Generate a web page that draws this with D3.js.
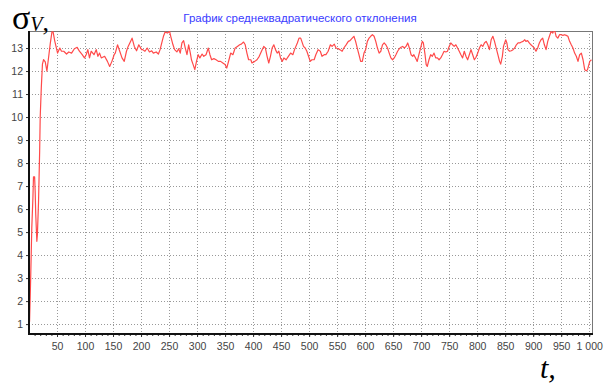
<!DOCTYPE html>
<html>
<head>
<meta charset="utf-8">
<script src="https://cdn.jsdelivr.net/npm/d3@7"></script>
<style>
  body { margin: 0; background: white; }
  #visualisationDiv { width: 614px; height: 387px; }
</style>
</head>
<body>
<div id="visualisationDiv"></div>
<script>
// time steps and sigma values
var tValues = [1, 3, 5, 7, 8, 10, 11, 12, 14, 15, 17, 19, 20, 22, 24, 26, 29, 32, 35, 38, 41, 43, 46,
  51, 55, 58, 62, 67, 71, 76, 81, 86, 90, 95, 99, 102, 105, 108, 111, 116, 120, 123, 126, 129, 135,
  140, 144, 148, 152, 154, 158, 162, 166, 170, 174, 177, 180, 184, 188, 192, 196, 201,
  203, 207, 211, 215, 219, 222, 227, 231, 234, 237, 240, 243, 247, 251, 253, 257, 260, 264, 267,
  270, 273, 276, 279, 282, 285, 288, 290, 293, 296, 299, 302, 305, 309, 312, 316, 320, 323, 326,
  330, 334, 338, 342, 346, 350, 353, 357, 360, 364, 368, 372, 376, 379, 383, 386, 389, 392, 396,
  398, 403, 407, 411, 415, 419, 422, 425, 428, 431, 434, 437, 440, 443, 446, 449, 452, 455, 459,
  463, 467, 471, 474, 479, 482, 485, 487, 490, 493, 496, 499, 502, 505, 509, 512, 516, 520, 523,
  527, 530, 534, 538, 541, 545, 548, 552, 555, 559, 562, 566, 570, 573, 577, 580, 583, 586, 589,
  592, 595, 598, 601, 604, 607, 610, 613, 616, 619, 622, 625, 628, 631, 634, 637, 640, 643, 646,
  649, 652, 655, 658, 661, 664, 667, 670, 673, 676, 679, 682, 685, 687, 690, 693, 696, 699, 702,
  704, 707, 709, 711, 714, 717, 720, 723, 726, 729, 732, 735, 738, 741, 744, 747, 750, 753, 756,
  759, 762, 765, 768, 771, 774, 777, 780, 783, 786, 789, 792, 795, 798, 801, 804, 807, 810, 813,
  816, 819, 822, 825, 828, 831, 834, 837, 840, 842, 845, 847, 851, 853, 855, 858, 861, 864, 867,
  870, 873, 876, 879, 882, 885, 887, 890, 893, 896, 899, 902, 905, 908, 911, 914, 917, 920, 923,
  926, 929, 932, 935, 938, 941, 944, 947, 950, 953, 956, 959, 962, 965, 968, 971, 974, 977, 980,
  983, 986, 989, 992, 995, 997, 1001, 1004];

var sigmaValues = [1.1, 3.0, 5.2, 6.5, 7.4, 7.4, 6.8, 5.8, 4.6, 4.9, 6.3, 8.5, 10.0, 11.3, 12.3, 12.5, 12.4, 12.0, 12.6, 13.2, 13.7, 13.7, 13.3,
  12.78, 13.0, 12.86, 12.86, 12.74, 12.83, 12.78, 12.97, 13.03, 12.86, 12.71, 12.57, 12.71, 12.93, 12.57, 12.86, 12.71, 12.93, 12.64, 12.78, 12.57, 12.64,
  12.42, 12.2, 12.42, 12.71, 12.78, 13.14, 12.86, 12.57, 12.42, 12.86, 13.07, 13.22, 13.43, 13.07, 12.88, 13.14, 12.93,
  12.93, 12.86, 13.0, 12.83, 12.88, 12.78, 12.83, 12.74, 12.93, 13.22, 13.51, 13.7, 13.65, 13.72, 13.51, 13.14, 12.93, 12.83, 12.97,
  12.78, 13.22, 13.32, 13.0, 12.71, 13.14, 12.78, 12.49, 12.28, 12.06, 12.42, 12.71, 12.57, 12.74, 12.64, 12.71, 13.0, 12.71, 12.49,
  12.54, 12.49, 12.42, 12.42, 12.35, 12.28, 12.13, 12.49, 12.78, 12.71, 13.0, 13.07, 13.14, 13.17, 13.26, 13.14, 12.78, 12.49, 12.49,
  12.35, 12.42, 12.49, 12.64, 12.86, 13.07, 13.0, 12.64, 12.35, 12.64, 13.0, 13.14, 12.93, 12.78, 12.86, 12.57, 12.42, 12.57, 12.49,
  12.64, 12.78, 12.71, 12.93, 13.22, 13.43, 13.43, 13.29, 13.07, 13.0, 12.86, 12.64, 12.42, 12.49, 12.49, 12.71, 12.93, 12.86, 12.64,
  12.71, 12.71, 12.86, 13.14, 13.07, 13.17, 13.0, 12.97, 12.93, 12.86, 13.0, 13.14, 13.29, 13.32, 13.43, 13.51, 13.29, 13.0, 12.71,
  12.42, 12.42, 12.78, 12.93, 13.29, 13.43, 13.51, 13.58, 13.51, 13.29, 13.0, 12.78, 12.86, 13.14, 13.22, 13.14, 13.0, 12.78, 12.57,
  12.49, 12.57, 12.71, 12.86, 12.97, 13.03, 13.07, 13.0, 13.07, 13.22, 13.0, 12.71, 12.64, 12.71, 12.57, 12.42, 12.71, 13.0, 13.29,
  13.22, 12.71, 12.28, 12.2, 12.49, 12.71, 12.64, 12.78, 12.57, 12.57, 12.49, 12.57, 12.71, 12.86, 12.83, 12.86, 13.07, 13.22, 13.14,
  13.07, 13.14, 13.0, 12.86, 12.71, 12.57, 12.86, 12.64, 12.49, 12.71, 12.93, 12.71, 12.49, 12.6, 12.78, 13.0, 13.14, 13.07, 13.22,
  13.29, 13.14, 12.93, 13.36, 13.51, 13.29, 13.0, 12.71, 12.42, 12.3, 12.64, 13.07, 13.36, 13.22, 12.93, 12.86, 12.88, 12.93, 13.0,
  13.14, 13.22, 13.22, 13.26, 13.29, 13.36, 13.29, 13.32, 13.22, 13.14, 13.07, 13.0, 12.86, 13.0, 13.22, 13.36, 13.43, 13.14, 12.93,
  13.29, 13.51, 13.72, 13.65, 13.8, 13.51, 13.43, 13.58, 13.58, 13.55, 13.58, 13.55, 13.51, 13.29, 13.14, 13.0, 12.78, 12.64, 12.42,
  12.71, 12.78, 12.49, 12.06, 12.01, 12.06, 12.42, 12.49];

var yTicks = [1, 2, 3, 4, 5, 6, 7, 8, 9, 10, 11, 12, 13];
var xTicks = [50, 100, 150, 200, 250, 300, 350, 400, 450, 500, 550, 600, 650, 700, 750, 800, 850, 900, 950, 1000];
var xMinorTicks = d3.range(10, 1005, 10);

var titleText = "График среднеквадратического отклонения";

function makeVisualisation() {
  var width = 614, height = 387;
  var left = 29, right = 592, top = 31, bottom = 334;

  var svg = d3.select("#visualisationDiv").append("svg")
    .attr("width", width)
    .attr("height", height);

  svg.append("rect").attr("width", width).attr("height", height).attr("fill", "white");

  var x = d3.scaleLinear().domain([0, 1005]).range([left, right]);
  var y = d3.scaleLinear().domain([0.57, 13.74]).range([bottom, top]);

  // dotted grid
  svg.append("g").selectAll("line").data(yTicks).enter().append("line")
    .attr("x1", left).attr("x2", right)
    .attr("y1", function(d) { return Math.round(y(d)) + 0.5; })
    .attr("y2", function(d) { return Math.round(y(d)) + 0.5; })
    .attr("stroke", "#999").attr("stroke-dasharray", "1,2");

  svg.append("g").selectAll("line").data(xTicks).enter().append("line")
    .attr("y1", top).attr("y2", bottom)
    .attr("x1", function(d) { return Math.round(x(d)) + 0.5; })
    .attr("x2", function(d) { return Math.round(x(d)) + 0.5; })
    .attr("stroke", "#999").attr("stroke-dasharray", "1,2");

  // frame
  svg.append("line").attr("x1", left).attr("x2", right).attr("y1", top + 0.5).attr("y2", top + 0.5)
    .attr("stroke", "#777");
  svg.append("line").attr("x1", right + 0.5).attr("x2", right + 0.5).attr("y1", top).attr("y2", bottom)
    .attr("stroke", "#777");

  // curve
  svg.append("clipPath").attr("id", "plotClip")
    .append("rect").attr("x", left).attr("y", top).attr("width", right - left).attr("height", bottom - top);

  var line = d3.line()
    .x(function(d, i) { return x(tValues[i]); })
    .y(function(d) { return y(d); });

  svg.append("path")
    .datum(sigmaValues)
    .attr("clip-path", "url(#plotClip)")
    .attr("fill", "none")
    .attr("stroke", "#ff4a4a")
    .attr("stroke-width", 1.2)
    .attr("stroke-linejoin", "round")
    .attr("d", line);

  // axes
  var yAxis = d3.axisLeft(y).tickValues(yTicks).tickSize(3).tickPadding(3);
  var yg = svg.append("g").attr("transform", "translate(" + left + ",0)").call(yAxis);
  yg.select(".domain").remove();

  var xMinor = d3.axisBottom(x).tickValues(xMinorTicks).tickSize(2).tickFormat("");
  var xm = svg.append("g").attr("transform", "translate(0," + bottom + ")").call(xMinor);
  xm.select(".domain").remove();

  var xAxis = d3.axisBottom(x).tickValues(xTicks).tickSize(3).tickPadding(6)
    .tickFormat(function(d) { return d === 1000 ? "1 000" : d; });
  var xg = svg.append("g").attr("transform", "translate(0," + bottom + ")").call(xAxis);
  xg.select(".domain").remove();

  svg.selectAll(".tick text")
    .attr("font-family", "Liberation Sans, Arial, sans-serif")
    .attr("font-size", "10.5px")
    .attr("fill", "#444");
  svg.selectAll(".tick line").attr("stroke", "#333");

  svg.append("line").attr("x1", left).attr("x2", left).attr("y1", top).attr("y2", bottom + 1)
    .attr("stroke", "#111").attr("stroke-width", 2);
  svg.append("line").attr("x1", left).attr("x2", right + 1).attr("y1", bottom).attr("y2", bottom)
    .attr("stroke", "#111").attr("stroke-width", 2);

  // title
  svg.append("text")
    .attr("x", 300).attr("y", 22)
    .attr("text-anchor", "middle")
    .attr("font-family", "Liberation Sans, Arial, sans-serif")
    .attr("font-size", "11.5px")
    .attr("fill", "#3a3aff")
    .text(titleText);

  // sigma_V label
  var sl = svg.append("text")
    .attr("x", 12).attr("y", 29)
    .attr("font-family", "Liberation Serif, Times New Roman, serif")
    .attr("font-size", "34px")
    .attr("fill", "black");
  sl.append("tspan").text("σ");
  sl.append("tspan").attr("font-size", "20px").attr("font-style", "italic").attr("dy", 2).text("V");
  sl.append("tspan").attr("font-size", "26px").attr("dy", 0).text(",");

  // t label
  svg.append("text")
    .attr("x", 540).attr("y", 378)
    .attr("font-family", "Liberation Serif, Times New Roman, serif")
    .attr("font-size", "30px")
    .attr("font-style", "italic")
    .attr("fill", "black")
    .text("t,");
}

makeVisualisation();
</script>
</body>
</html>
